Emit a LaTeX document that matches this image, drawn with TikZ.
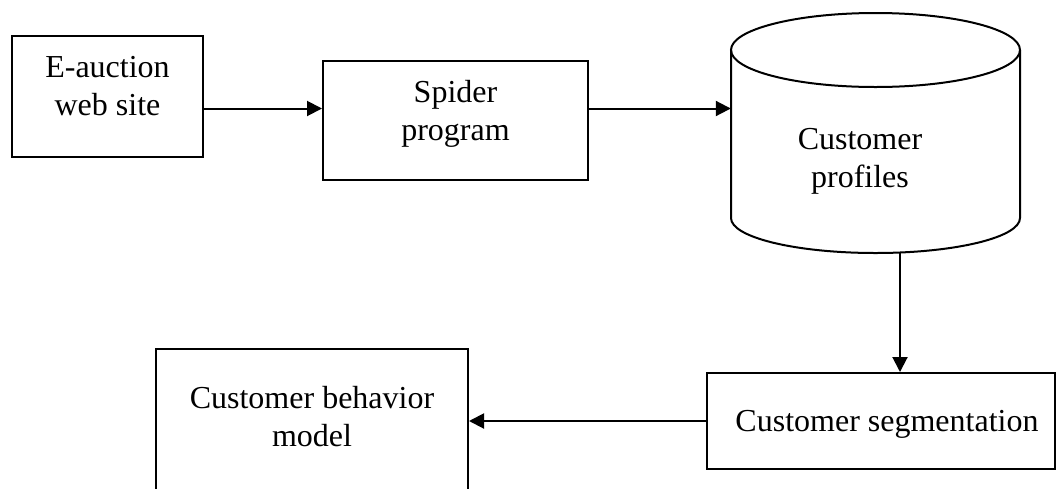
\documentclass[tikz,border=0pt]{standalone}
\usepackage{fontspec}
\setmainfont{Liberation Serif}
\usetikzlibrary{arrows.meta,calc}
\begin{document}
\begin{tikzpicture}[x=1pt,y=-1pt,
  box/.style={draw,line width=2pt,rectangle,inner sep=0pt},
  txt/.style={align=center,inner sep=0pt,font=\fontsize{32}{38}\selectfont},
  arr/.style={line width=2pt,-{Triangle[length=15pt,width=15pt]}}]
\useasboundingbox[fill=white] (0,0) rectangle (1057,488);
% boxes
\node[box,minimum width=191pt,minimum height=121pt] (b1) at (107.5,96.5) {};
\node[box,minimum width=265pt,minimum height=119pt] (b2) at (455.5,120.5) {};
\node[box,minimum width=348pt,minimum height=96pt] (b4) at (881,421) {};
\node[box,minimum width=312pt,minimum height=160pt] (b5) at (312,429) {};
% cylinder
\node[inner sep=0pt,minimum width=289pt,minimum height=239pt] (cyl) at (875.5,132.5) {};
\draw[line width=2pt] (731,50) -- (731,218) arc[start angle=180,end angle=360,x radius=144.5,y radius=-35] -- (1020,50);
\draw[line width=2pt] (875.5,50) ellipse[x radius=144.5,y radius=37];
% texts
\node[txt] (t1) at (107.5,86) {E-auction\\web site};
\node[txt] (t2) at (455.5,114) {Spider\\program};
\node[txt] (t3) at (860,161) {Customer\\profiles};
\node[txt] (t4) at (887,424) {Customer segmentation};
\node[txt] (t5) at (312,417) {Customer behavior\\model};
% connectors
\coordinate (r1) at (0,108.5);
\coordinate (c1) at (900,0);
\draw[arr] (b1.east |- r1) -- (b2.west |- r1);
\draw[arr] (b2.east |- r1) -- (cyl.west |- r1);
\draw[arr] (c1 |- cyl.south) ++(0,-0.5) -- (c1 |- b4.north);
\draw[arr] (b4.west) -- (b5.east |- b4.west);
\end{tikzpicture}
\end{document}
